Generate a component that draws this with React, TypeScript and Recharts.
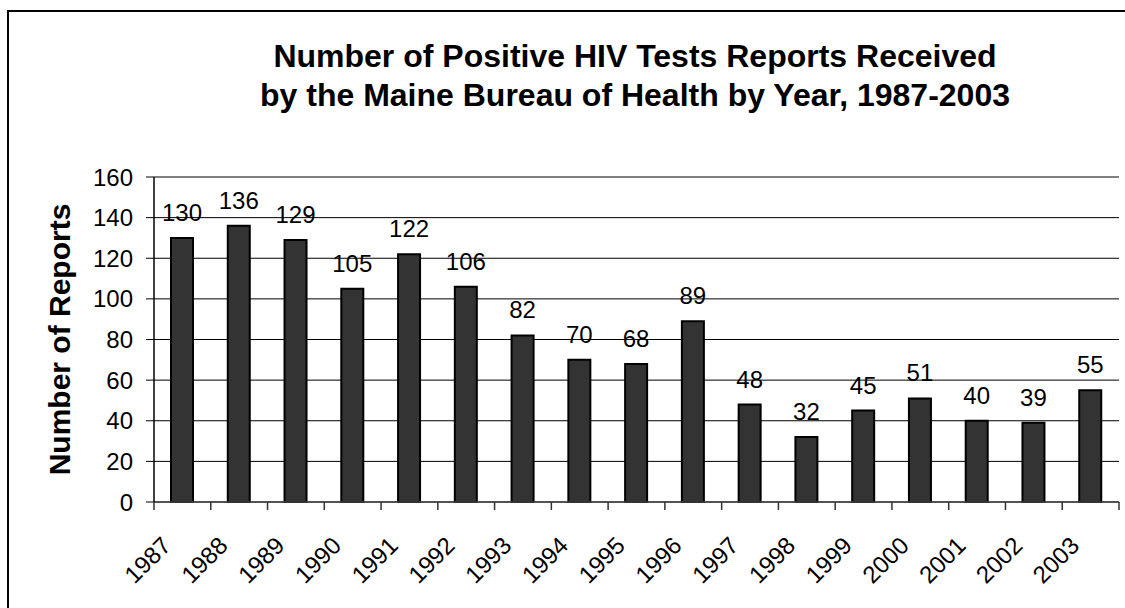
import { Bar, BarChart, CartesianGrid, LabelList, XAxis, YAxis } from "recharts"

const years = ["1987", "1988", "1989", "1990", "1991", "1992", "1993", "1994", "1995", "1996", "1997", "1998", "1999", "2000", "2001", "2002", "2003"]
const reports = [130, 136, 129, 105, 122, 106, 82, 70, 68, 89, 48, 32, 45, 51, 40, 39, 55]
const yTicks = [0, 20, 40, 60, 80, 100, 120, 140, 160]

const titleLines = ["Number of Positive HIV Tests Reports Received", "by the Maine Bureau of Health by Year, 1987-2003"]
const yTitle = "Number of Reports"

const data = years.map((year, i) => ({ year, reports: reports[i] }))

const W = 1125
const H = 608
const margin = { top: 177, right: 6, bottom: 26, left: 0 }
const Y_AXIS_W = 154
const X_AXIS_H = 80
const band = (W - margin.left - margin.right - Y_AXIS_W) / years.length
const font = "'Liberation Sans', Arial, sans-serif"

// excel-style ticks sit between the categories, so draw them from the label
function YearTick(props: any) {
  const { x, y, payload, index } = props
  const half = band / 2
  const axisY = y - 8
  return (
    <g>
      <line x1={x - half} x2={x - half} y1={axisY} y2={y} stroke="#333" strokeWidth={1.5} />
      {index === years.length - 1 && (
        <line x1={x + half} x2={x + half} y1={axisY} y2={y} stroke="#333" strokeWidth={1.5} />
      )}
      <text
        x={x - 10}
        y={y + 37}
        transform={`rotate(-45, ${x - 10}, ${y + 37})`}
        textAnchor="end"
        fontSize={24}
        fontFamily={font}
        fill="#000"
      >
        {payload.value}
      </text>
    </g>
  )
}

export default function App() {
  return (
    <div style={{ position: "fixed", left: 0, top: 0, width: W, height: H, overflow: "hidden", background: "#fff" }}>
      <div
        style={{
          position: "absolute",
          left: 7,
          top: 10,
          width: W,
          height: H,
          borderLeft: "2px solid #000",
          borderTop: "2px solid #000",
        }}
      />
      <div
        style={{
          position: "absolute",
          left: 135,
          top: 37,
          width: 1000,
          textAlign: "center",
          fontFamily: font,
          fontWeight: "bold",
          fontSize: 32,
          lineHeight: "39px",
          color: "#000",
        }}
      >
        {titleLines.map((t) => (
          <div key={t}>{t}</div>
        ))}
      </div>
      <div style={{ position: "absolute", left: 0, top: 0 }}>
        <BarChart width={W} height={H} data={data} margin={margin} barCategoryGap={0}>
          <CartesianGrid vertical={false} stroke="#000" strokeWidth={1} />
          <XAxis
            dataKey="year"
            height={X_AXIS_H}
            interval={0}
            tickSize={8}
            tickMargin={0}
            tickLine={false}
            axisLine={{ stroke: "#444", strokeWidth: 1.5 }}
            tick={<YearTick />}
          />
          <XAxis
            xAxisId="top"
            dataKey="year"
            orientation="top"
            height={0}
            tick={false}
            tickLine={false}
            axisLine={{ stroke: "#888", strokeWidth: 2 }}
          />
          <YAxis
            width={Y_AXIS_W}
            domain={[0, 160]}
            ticks={yTicks}
            interval={0}
            tickSize={8}
            tickMargin={13}
            tickLine={{ stroke: "#000" }}
            axisLine={{ stroke: "#000", strokeWidth: 1.5 }}
            tick={{ fontSize: 24, fontFamily: font, fill: "#000" }}
            label={{
              value: yTitle,
              angle: -90,
              position: "center",
              dx: -18,
              style: { fontSize: 30, fontWeight: "bold", fontFamily: font, fill: "#000" },
            }}
          />
          <YAxis
            yAxisId="right"
            orientation="right"
            width={0}
            domain={[0, 160]}
            tick={false}
            tickLine={false}
            axisLine={{ stroke: "#888", strokeWidth: 2 }}
          />
          <Bar dataKey="reports" fill="#333333" stroke="#000" strokeWidth={2} barSize={22} isAnimationActive={false}>
            <LabelList
              dataKey="reports"
              position="top"
              offset={17}
              fill="#000"
              fontSize={24}
              fontFamily={font}
            />
          </Bar>
        </BarChart>
      </div>
    </div>
  )
}
